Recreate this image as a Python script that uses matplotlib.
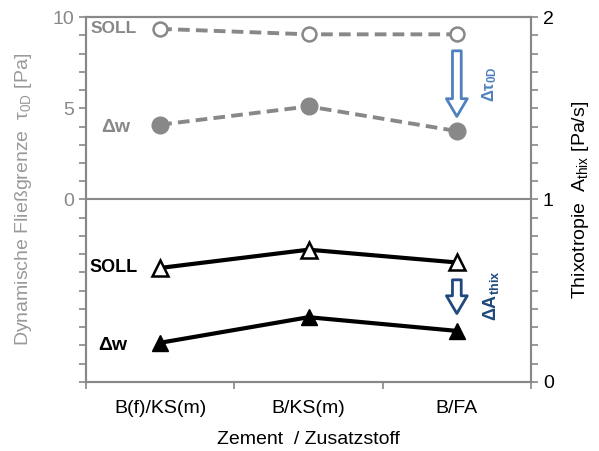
import matplotlib.pyplot as plt
import numpy as np

plt.rcParams['font.family'] = ['Liberation Sans', 'DejaVu Sans']
plt.rcParams['mathtext.default'] = 'regular'

kategorien = ['B(f)/KS(m)', 'B/KS(m)', 'B/FA']
tau_soll = [9.35, 9.05, 9.05]
tau_dw = [4.1, 5.1, 3.75]
athix_soll = [0.625, 0.725, 0.655]
athix_dw = [0.215, 0.355, 0.28]

grau = '#888888'
x = np.arange(len(kategorien)) + 0.5

fig = plt.figure(figsize=(5.99, 4.51), dpi=100)
ax = fig.add_axes([0.1436, 0.153, 0.7429, 0.8093])
ax2 = ax.twinx()

# linke Achse: Fliessgrenze
ax.plot(x, tau_soll, '--', color=grau, lw=2.8, dashes=(3, 1.6),
        marker='o', ms=10, mfc='white', mec=grau, mew=1.8)
ax.plot(x, tau_dw, '--', color=grau, lw=2.8, dashes=(3, 1.6),
        marker='o', ms=12, mfc=grau, mec=grau)
ax.axhline(0, color=grau, lw=1.5)
ax.set_ylim(-10, 10)
ax.set_xlim(0, 3)
ax.set_yticks(range(-10, 11))
ax.set_yticklabels(['0' if v == 0 else '5' if v == 5 else '10' if v == 10 else '' for v in range(-10, 11)])
ax.tick_params(axis='y', colors=grau, labelcolor=grau, labelsize=14, length=5, width=1.2)
ax.set_xticks([0, 1, 2, 3])
ax.set_xticklabels([])
ax.set_xticks(x, minor=True)
ax.set_xticklabels(kategorien, minor=True)
ax.tick_params(axis='x', which='major', colors=grau, length=5, width=1.2)
ax.tick_params(axis='x', which='minor', length=0, labelsize=14, pad=13)
ax.set_xlabel('Zement  / Zusatzstoff', fontsize=14, labelpad=10)
ax.set_ylabel('Dynamische Fließgrenze  τ$_{0D}$ [Pa]', color='#999999', fontsize=14, labelpad=13)

# rechte Achse: Thixotropie
ax2.plot(x, athix_soll, '-', color='black', lw=3,
         marker='^', ms=11, mfc='white', mec='black', mew=1.8)
ax2.plot(x, athix_dw, '-', color='black', lw=3,
         marker='^', ms=12, mfc='black', mec='black')
ax2.set_ylim(0, 2)
ax2.set_yticks(np.arange(0, 2.01, 0.1))
ax2.set_yticklabels(['0' if abs(v) < 1e-6 else '1' if abs(v - 1) < 1e-6 else '2' if abs(v - 2) < 1e-6 else ''
                     for v in np.arange(0, 2.01, 0.1)])
ax2.tick_params(axis='y', colors=grau, labelcolor='black', labelsize=14, length=5, width=1.2)
ax2.set_ylabel('Thixotropie  A$_{thix}$ [Pa/s]', fontsize=14, labelpad=12)

for a in (ax, ax2):
    for s in a.spines.values():
        s.set_color(grau)
        s.set_linewidth(1.5)

# Beschriftungen
ax.text(0.03, 9.35, 'SOLL', color=grau, fontsize=12.5, fontweight='bold', va='center')
ax.text(0.1, 3.95, 'Δw', color=grau, fontsize=14, fontweight='bold', va='center')
ax2.text(0.02, 0.625, 'SOLL', color='black', fontsize=13, fontweight='bold', va='center')
ax2.text(0.08, 0.2, 'Δw', color='black', fontsize=14, fontweight='bold', va='center')

# Pfeile
pfeil = 'simple,head_width=1.0,head_length=0.85,tail_width=0.42'
ax2.annotate('', xy=(2.5, 1.44), xytext=(2.5, 1.83),
             arrowprops=dict(arrowstyle=pfeil, mutation_scale=15,
                             fc='white', ec='#4f81bd', lw=2))
ax2.text(2.72, 1.63, 'Δτ$_{0D}$', color='#4f81bd', fontsize=12, fontweight='bold',
         rotation=90, ha='center', va='center')
ax2.annotate('', xy=(2.5, 0.36), xytext=(2.5, 0.575),
             arrowprops=dict(arrowstyle=pfeil, mutation_scale=15,
                             fc='white', ec='#1f497d', lw=2))
ax2.text(2.73, 0.47, 'ΔA$_{thix}$', color='#1f497d', fontsize=13, fontweight='bold',
         rotation=90, ha='center', va='center')

fig.savefig('out.png', dpi=100)
